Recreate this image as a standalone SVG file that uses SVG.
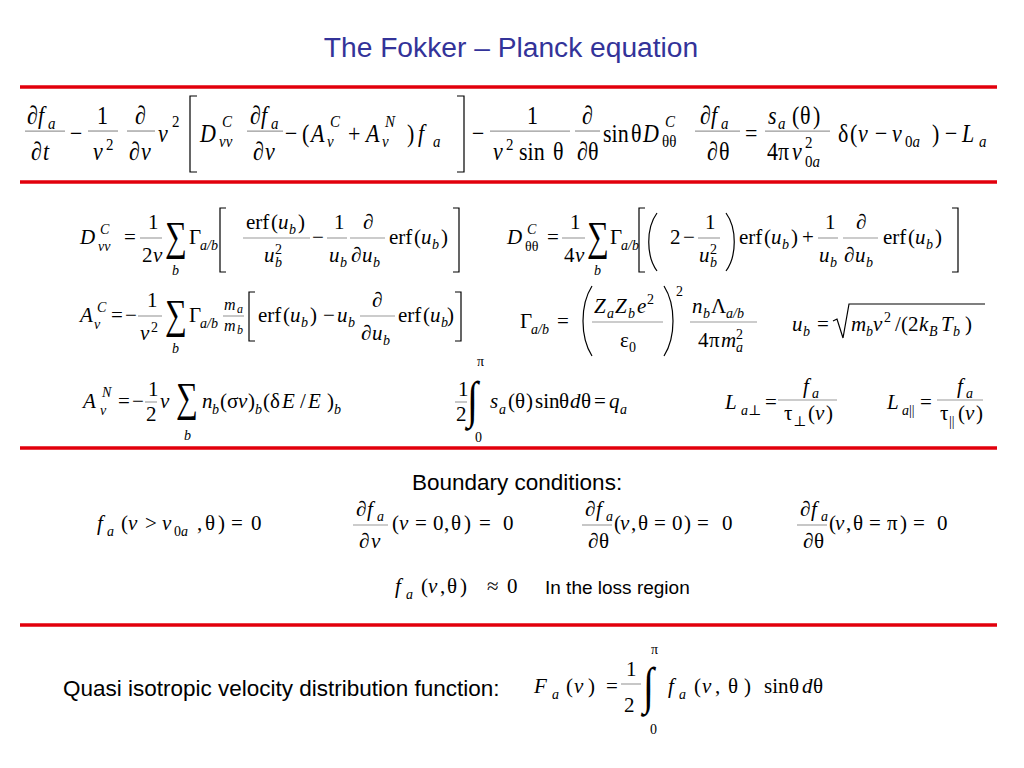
<svg xmlns="http://www.w3.org/2000/svg" width="1024" height="768" viewBox="0 0 1024 768">
<style>
.t,.T,.s,.S,.m16,.m12{font-family:"Liberation Serif","Times New Roman","DejaVu Serif",serif;fill:#000}
.t{font-size:21px}.T{font-size:22px}.s{font-size:14px}.S{font-size:15px}.m16{font-size:16px}.m12{font-size:12px}
.i{font-style:italic}
.sum{font-size:36px}
.int{font-size:40px}
.sans{font-family:"Liberation Sans",Arial,sans-serif;fill:#000}
.fl{stroke:#999;stroke-width:1.1}
.dl{fill:none;stroke:#000;stroke-width:1.2}
.red{stroke:#e2000c;stroke-width:3.5}
</style>
<rect width="1024" height="768" fill="#fff"/>
<text x="511" y="57" text-anchor="middle" class="sans" style="font-size:28.2px;fill:#333399">The Fokker – Planck equation</text>
<g id="rules">
<line class="red" x1="20" y1="87" x2="997" y2="87"/>
<line class="red" x1="20" y1="182" x2="997" y2="182"/>
<line class="red" x1="20" y1="448" x2="997" y2="448"/>
<line class="red" x1="20" y1="625" x2="997" y2="625"/>
</g>

<g id="eq-main">
<path class="dl" d="M197,96 L190,96 L190,172 L197,172"/>
<path class="dl" d="M457,96 L464,96 L464,172 L457,172"/>
<g transform="translate(0,142) scale(1,1.18)">
<line class="fl" x1="25" y1="-9.3" x2="65" y2="-9.3"/>
<text class="T" x="27" y="-15">∂</text><text class="T i" x="38" y="-15">f</text><text class="S i" x="48" y="-11">a</text>
<text class="T" x="31" y="15">∂</text><text class="T i" x="43" y="15">t</text>
<text class="T" x="70" y="0">−</text>
<line class="fl" x1="88" y1="-9.3" x2="118" y2="-9.3"/>
<text class="T" x="97" y="-15">1</text><text class="T i" x="93" y="15">v</text><text class="S" x="106" y="6.5">2</text>
<line class="fl" x1="127" y1="-9.3" x2="155" y2="-9.3"/>
<text class="T" x="135" y="-15">∂</text><text class="T" x="129" y="15">∂</text><text class="T i" x="141" y="15">v</text>
<text class="T i" x="158" y="0">v</text><text class="S" x="172" y="-13">2</text>
<text class="T i" x="200" y="0">D</text><text class="S i" x="222" y="-13">C</text><text class="S i" x="219" y="4">vv</text>
<line class="fl" x1="247" y1="-9.3" x2="283" y2="-9.3"/>
<text class="T" x="250" y="-15">∂</text><text class="T i" x="261" y="-15">f</text><text class="S i" x="271" y="-11">a</text>
<text class="T" x="253" y="15">∂</text><text class="T i" x="265" y="15">v</text>
<text class="T" x="285" y="0">−</text><text class="T" x="302" y="0">(</text>
<text class="T i" x="311" y="0">A</text><text class="S i" x="330" y="-13">C</text><text class="S i" x="327" y="4">v</text>
<text class="T" x="348" y="0">+</text>
<text class="T i" x="366" y="0">A</text><text class="S i" x="385" y="-13">N</text><text class="S i" x="382" y="4">v</text>
<text class="T" x="407" y="0">)</text>
<text class="T i" x="418" y="0">f</text><text class="S i" x="433" y="4">a</text>
<text class="T" x="472" y="0">−</text>
<line class="fl" x1="490" y1="-9.3" x2="570" y2="-9.3"/>
<text class="T" x="527" y="-15">1</text>
<text class="T i" x="493" y="15">v</text><text class="S" x="506" y="6.5">2</text><text class="T" x="519" y="15">sin</text><text class="T" x="553" y="15">θ</text>
<line class="fl" x1="575" y1="-9.3" x2="600" y2="-9.3"/>
<text class="T" x="582" y="-15">∂</text><text class="T" x="577" y="15">∂</text><text class="T" x="588" y="15">θ</text>
<text class="T" x="603" y="0">sin</text><text class="T" x="631" y="0">θ</text>
<text class="T i" x="643" y="0">D</text><text class="S i" x="665" y="-13">C</text><text class="S" x="662" y="4">θθ</text>
<line class="fl" x1="695" y1="-9.3" x2="740" y2="-9.3"/>
<text class="T" x="700" y="-15">∂</text><text class="T i" x="711" y="-15">f</text><text class="S i" x="721" y="-11">a</text>
<text class="T" x="707" y="15">∂</text><text class="T" x="719" y="15">θ</text>
<text class="T" x="745" y="0">=</text>
<line class="fl" x1="765" y1="-9.3" x2="830" y2="-9.3"/>
<text class="T i" x="768" y="-15">s</text><text class="S i" x="778" y="-11">a</text><text class="T" x="792" y="-15">(</text><text class="T" x="800" y="-15">θ</text><text class="T" x="813" y="-15">)</text>
<text class="T" x="767" y="15">4</text><text class="T" x="778" y="15">π</text><text class="T i" x="792" y="15">v</text><text class="S" x="805" y="5">2</text><text class="S" x="805" y="21">0<tspan class="i">a</tspan></text>
<text class="T" x="838" y="0">δ</text><text class="T" x="850" y="0">(</text><text class="T i" x="858" y="0">v</text><text class="T" x="875" y="0">−</text><text class="T i" x="892" y="0">v</text><text class="S" x="905" y="4">0<tspan class="i">a</tspan></text><text class="T" x="932" y="0">)</text><text class="T" x="945" y="0">−</text><text class="T i" x="962" y="0">L</text><text class="S i" x="979" y="4">a</text>
</g>
</g>

<g id="eq-Dvv">
<text class="t i" x="80" y="244">D</text><text class="s i" x="100" y="234">C</text><text class="s i" x="98" y="251">vv</text>
<text class="t" x="124" y="244">=</text>
<line class="fl" x1="140" y1="238" x2="162" y2="238"/>
<text class="t" x="148" y="229">1</text><text class="t" x="142" y="262">2</text><text class="t i" x="153" y="262">v</text>
<text class="t sum" transform="translate(165,250) scale(0.85,1.15)">∑</text>
<text class="s i" x="172" y="275">b</text>
<text class="t" x="189" y="244">Γ</text><text class="s i" x="200" y="250">a/b</text>
<path class="dl" d="M226,208 L220,208 L220,272 L226,272"/>
<line class="fl" x1="243" y1="238" x2="310" y2="238"/>
<text class="t" x="246" y="229">erf</text><text class="t" x="271" y="229">(</text><text class="t i" x="278" y="229">u</text><text class="s i" x="289" y="234">b</text><text class="t" x="298" y="229">)</text>
<text class="t i" x="264" y="262">u</text><text class="s i" x="275" y="267">b</text><text class="s" x="275" y="254">2</text>
<text class="t" x="312" y="244">−</text>
<line class="fl" x1="327" y1="238" x2="347" y2="238"/>
<text class="t" x="334" y="229">1</text><text class="t i" x="329" y="262">u</text><text class="s i" x="340" y="267">b</text>
<line class="fl" x1="350" y1="238" x2="385" y2="238"/>
<text class="t" x="363" y="229">∂</text><text class="t" x="351" y="262">∂</text><text class="t i" x="362" y="262">u</text><text class="s i" x="373" y="267">b</text>
<text class="t" x="389" y="244">erf</text><text class="t" x="414" y="244">(</text><text class="t i" x="421" y="244">u</text><text class="s i" x="432" y="249">b</text><text class="t" x="441" y="244">)</text>
<path class="dl" d="M453,208 L459,208 L459,272 L453,272"/>
</g>

<g id="eq-AvC">
<text class="t i" x="80" y="322">A</text><text class="s i" x="97" y="312">C</text><text class="s i" x="94" y="329">v</text>
<text class="t" x="111" y="322">=</text><text class="t" x="125" y="322">−</text>
<line class="fl" x1="138" y1="316" x2="162" y2="316"/>
<text class="t" x="147" y="307">1</text><text class="t i" x="140" y="340">v</text><text class="s" x="151" y="332">2</text>
<text class="t sum" transform="translate(165,328) scale(0.85,1.15)">∑</text>
<text class="s i" x="172" y="353">b</text>
<text class="t" x="189" y="322">Γ</text><text class="s i" x="200" y="328">a/b</text>
<line class="fl" x1="223" y1="316" x2="244" y2="316"/>
<text class="m16 i" x="224" y="310">m</text><text class="m12 i" x="237" y="313">a</text>
<text class="m16 i" x="224" y="331">m</text><text class="m12 i" x="237" y="334">b</text>
<path class="dl" d="M255,292 L249,292 L249,341 L255,341"/>
<text class="t" x="258" y="322">erf</text><text class="t" x="283" y="322">(</text><text class="t i" x="290" y="322">u</text><text class="s i" x="301" y="327">b</text><text class="t" x="310" y="322">)</text>
<text class="t" x="323" y="322">−</text>
<text class="t i" x="337" y="322">u</text><text class="s i" x="348" y="327">b</text>
<line class="fl" x1="360" y1="316" x2="395" y2="316"/>
<text class="t" x="372" y="307">∂</text><text class="t" x="361" y="340">∂</text><text class="t i" x="372" y="340">u</text><text class="s i" x="383" y="345">b</text>
<text class="t" x="398" y="322">erf</text><text class="t" x="423" y="322">(</text><text class="t i" x="430" y="322">u</text><text class="s i" x="441" y="327">b</text><text class="t" x="447" y="322">)</text>
<path class="dl" d="M455,292 L461,292 L461,341 L455,341"/>
</g>

<g id="eq-Dtt">
<text class="t i" x="507" y="244">D</text><text class="s i" x="527" y="234">C</text><text class="s" x="525" y="251">θθ</text>
<text class="t" x="547" y="244">=</text>
<line class="fl" x1="562" y1="238" x2="585" y2="238"/>
<text class="t" x="570" y="229">1</text><text class="t" x="564" y="262">4</text><text class="t i" x="575" y="262">v</text>
<text class="t sum" transform="translate(587,250) scale(0.85,1.15)">∑</text>
<text class="s i" x="594" y="275">b</text>
<text class="t" x="610" y="244">Γ</text><text class="s i" x="621" y="250">a/b</text>
<path class="dl" d="M645,208 L639,208 L639,272 L645,272"/>
<path class="dl" d="M657,213 C646,228 646,256 657,271"/>
<text class="t" x="670" y="244">2</text><text class="t" x="683" y="244">−</text>
<line class="fl" x1="698" y1="238" x2="720" y2="238"/>
<text class="t" x="705" y="229">1</text><text class="t i" x="699" y="262">u</text><text class="s i" x="710" y="267">b</text><text class="s" x="710" y="254">2</text>
<path class="dl" d="M726,213 C737,228 737,256 726,271"/>
<text class="t" x="739" y="244">erf</text><text class="t" x="764" y="244">(</text><text class="t i" x="771" y="244">u</text><text class="s i" x="782" y="249">b</text><text class="t" x="791" y="244">)</text>
<text class="t" x="802" y="244">+</text>
<line class="fl" x1="818" y1="238" x2="838" y2="238"/>
<text class="t" x="825" y="229">1</text><text class="t i" x="819" y="262">u</text><text class="s i" x="830" y="267">b</text>
<line class="fl" x1="843" y1="238" x2="878" y2="238"/>
<text class="t" x="856" y="229">∂</text><text class="t" x="844" y="262">∂</text><text class="t i" x="855" y="262">u</text><text class="s i" x="866" y="267">b</text>
<text class="t" x="883" y="244">erf</text><text class="t" x="908" y="244">(</text><text class="t i" x="915" y="244">u</text><text class="s i" x="926" y="249">b</text><text class="t" x="935" y="244">)</text>
<path class="dl" d="M952,208 L958,208 L958,272 L952,272"/>
</g>

<g id="eq-Gamma">
<text class="t" x="520" y="328">Γ</text><text class="s i" x="531" y="334">a/b</text>
<text class="t" x="557" y="328">=</text>
<path class="dl" d="M592,286 C580,305 580,337 592,356"/>
<line class="fl" x1="592" y1="322" x2="663" y2="322"/>
<text class="t i" x="594" y="313">Z</text><text class="s i" x="607" y="318">a</text><text class="t i" x="615" y="313">Z</text><text class="s i" x="628" y="318">b</text><text class="t i" x="637" y="313">e</text><text class="s" x="647" y="304">2</text>
<text class="t" x="620" y="347">ε</text><text class="s" x="629" y="352">0</text>
<path class="dl" d="M664,286 C676,305 676,337 664,356"/>
<text class="s" x="676" y="296">2</text>
<line class="fl" x1="690" y1="322" x2="757" y2="322"/>
<text class="t i" x="692" y="313">n</text><text class="s i" x="703" y="318">b</text><text class="t" x="711" y="313">Λ</text><text class="s i" x="726" y="318">a/b</text>
<text class="t" x="698" y="347">4</text><text class="t" x="709" y="347">π</text><text class="t i" x="721" y="347">m</text><text class="s i" x="736" y="352">a</text><text class="s" x="736" y="339">2</text>
</g>

<g id="eq-ub">
<text class="t i" x="792" y="331">u</text><text class="s i" x="803" y="336">b</text>
<text class="t" x="817" y="331">=</text>
<path class="dl" d="M833,321 L837,319 L843,338 L849,304 L985,304"/>
<text class="t i" x="851" y="331">m</text><text class="s i" x="866" y="336">b</text><text class="t i" x="873" y="331">v</text><text class="s" x="884" y="322">2</text>
<text class="t" x="895" y="331">/</text><text class="t" x="901" y="331">(</text><text class="t" x="908" y="331">2</text><text class="t i" x="919" y="331">k</text><text class="s i" x="929" y="336">B</text><text class="t i" x="941" y="331">T</text><text class="s i" x="953" y="336">b</text><text class="t" x="965" y="331">)</text>
</g>

<g id="eq-AvN">
<text class="t i" x="83" y="408">A</text><text class="s i" x="102" y="397">N</text><text class="s i" x="100" y="415">v</text>
<text class="t" x="118" y="408">=</text><text class="t" x="132" y="408">−</text>
<line class="fl" x1="145" y1="402" x2="157" y2="402"/>
<text class="t" x="148" y="396">1</text><text class="t" x="146" y="421">2</text>
<text class="t i" x="160" y="408">v</text>
<text class="t sum" transform="translate(176,411) scale(0.85,1.15)">∑</text>
<text class="s i" x="184" y="440">b</text>
<text class="t i" x="202" y="408">n</text><text class="s i" x="212" y="414">b</text><text class="t" x="220" y="408">(</text><text class="t" x="227" y="408">σ</text><text class="t i" x="238" y="408">v</text><text class="t" x="248" y="408">)</text><text class="s i" x="255" y="414">b</text>
<text class="t" x="263" y="408">(</text><text class="t" x="270" y="408">δ</text><text class="t i" x="282" y="408">E</text><text class="t" x="300" y="408">/</text><text class="t i" x="308" y="408">E</text><text class="t" x="327" y="408">)</text><text class="s i" x="334" y="414">b</text>
</g>

<g id="eq-source">
<line class="fl" x1="455" y1="402" x2="467" y2="402"/>
<text class="t" x="458" y="396">1</text><text class="t" x="456" y="421">2</text>
<text class="t int" transform="translate(467,417) scale(1,1.28)">∫</text>
<text class="s" x="477" y="366">π</text><text class="s" x="475" y="442">0</text>
<text class="t i" x="490" y="408">s</text><text class="s i" x="499" y="414">a</text><text class="t" x="508" y="408">(</text><text class="t" x="515" y="408">θ</text><text class="t" x="526" y="408">)</text>
<text class="t" x="535" y="408">sin</text><text class="t" x="559" y="408">θ</text><text class="t i" x="570" y="408">d</text><text class="t" x="581" y="408">θ</text>
<text class="t" x="594" y="408">=</text><text class="t i" x="609" y="408">q</text><text class="s i" x="620" y="414">a</text>
</g>

<g id="eq-Lperp">
<text class="t i" x="725" y="409">L</text><text class="s i" x="741" y="415">a</text><text class="s" x="748" y="415">⊥</text>
<text class="t" x="765" y="409">=</text>
<line class="fl" x1="778" y1="400" x2="837" y2="400"/>
<text class="t i" x="803" y="393">f</text><text class="s i" x="812" y="398">a</text>
<text class="t" x="784" y="420">τ</text><text class="s" x="793" y="426">⊥</text><text class="t" x="808" y="420">(</text><text class="t i" x="815" y="420">v</text><text class="t" x="826" y="420">)</text>
</g>

<g id="eq-Lpar">
<text class="t i" x="887" y="409">L</text><text class="s i" x="902" y="415">a</text><text class="s" x="909" y="415">||</text>
<text class="t" x="920" y="409">=</text>
<line class="fl" x1="937" y1="400" x2="983" y2="400"/>
<text class="t i" x="957" y="393">f</text><text class="s i" x="966" y="398">a</text>
<text class="t" x="940" y="420">τ</text><text class="s" x="949" y="426">||</text><text class="t" x="958" y="420">(</text><text class="t i" x="965" y="420">v</text><text class="t" x="976" y="420">)</text>
</g>

<text class="sans" x="412" y="490" style="font-size:22.5px">Boundary conditions:</text>

<g id="bc1">
<text class="t i" x="97" y="530">f</text><text class="s i" x="107" y="536">a</text><text class="t" x="121" y="530">(</text><text class="t i" x="128" y="530">v</text><text class="t" x="145" y="530">&gt;</text><text class="t i" x="162" y="530">v</text><text class="s" x="174" y="536">0<tspan class="i">a</tspan></text><text class="t" x="197" y="530">,</text><text class="t" x="205" y="530">θ</text><text class="t" x="218" y="530">)</text><text class="t" x="231" y="530">=</text><text class="t" x="251" y="530">0</text>
</g>

<g id="bc2">
<line class="fl" x1="353" y1="525" x2="388" y2="525"/>
<text class="t" x="356" y="516">∂</text><text class="t i" x="367" y="516">f</text><text class="s i" x="377" y="521">a</text>
<text class="t" x="359" y="548">∂</text><text class="t i" x="371" y="548">v</text>
<text class="t" x="392" y="530">(</text><text class="t i" x="399" y="530">v</text><text class="t" x="415" y="530">=</text><text class="t" x="433" y="530">0</text><text class="t" x="444" y="530">,</text><text class="t" x="451" y="530">θ</text><text class="t" x="464" y="530">)</text><text class="t" x="479" y="530">=</text><text class="t" x="503" y="530">0</text>
</g>

<g id="bc3">
<line class="fl" x1="582" y1="525" x2="612" y2="525"/>
<text class="t" x="585" y="516">∂</text><text class="t i" x="596" y="516">f</text><text class="s i" x="606" y="521">a</text>
<text class="t" x="588" y="548">∂</text><text class="t" x="599" y="548">θ</text>
<text class="t" x="614" y="530">(</text><text class="t i" x="620" y="530">v</text><text class="t" x="631" y="530">,</text><text class="t" x="638" y="530">θ</text><text class="t" x="654" y="530">=</text><text class="t" x="672" y="530">0</text><text class="t" x="684" y="530">)</text><text class="t" x="697" y="530">=</text><text class="t" x="722" y="530">0</text>
</g>

<g id="bc4">
<line class="fl" x1="797" y1="525" x2="827" y2="525"/>
<text class="t" x="800" y="516">∂</text><text class="t i" x="811" y="516">f</text><text class="s i" x="821" y="521">a</text>
<text class="t" x="803" y="548">∂</text><text class="t" x="814" y="548">θ</text>
<text class="t" x="829" y="530">(</text><text class="t i" x="835" y="530">v</text><text class="t" x="846" y="530">,</text><text class="t" x="853" y="530">θ</text><text class="t" x="869" y="530">=</text><text class="t" x="887" y="530">π</text><text class="t" x="900" y="530">)</text><text class="t" x="913" y="530">=</text><text class="t" x="937" y="530">0</text>
</g>

<g id="bc5">
<text class="t i" x="395" y="593">f</text><text class="s i" x="406" y="599">a</text><text class="t" x="421" y="593">(</text><text class="t i" x="428" y="593">v</text><text class="t" x="440" y="593">,</text><text class="t" x="447" y="593">θ</text><text class="t" x="460" y="593">)</text><text class="t" x="487" y="593">≈</text><text class="t" x="507" y="593">0</text>
</g>
<text class="sans" x="545" y="594" style="font-size:19px">In the loss region</text>

<text class="sans" x="63" y="696" style="font-size:22.5px">Quasi isotropic velocity distribution function:</text>

<g id="eq-Fa">
<text class="t i" x="534" y="693">F</text><text class="s i" x="552" y="699">a</text><text class="t" x="566" y="693">(</text><text class="t i" x="574" y="693">v</text><text class="t" x="588" y="693">)</text>
<text class="t" x="606" y="693">=</text>
<line class="fl" x1="621" y1="684" x2="641" y2="684"/>
<text class="t" x="626" y="676">1</text><text class="t" x="624" y="712">2</text>
<text class="t int" transform="translate(643,703) scale(1,1.28)">∫</text>
<text class="s" x="651" y="654">π</text><text class="s" x="650" y="734">0</text>
<text class="t i" x="668" y="693">f</text><text class="s i" x="679" y="699">a</text><text class="t" x="694" y="693">(</text><text class="t i" x="702" y="693">v</text><text class="t" x="715" y="693">,</text><text class="t" x="728" y="693">θ</text><text class="t" x="744" y="693">)</text>
<text class="t" x="764" y="693">sin</text><text class="t" x="789" y="693">θ</text><text class="t i" x="802" y="693">d</text><text class="t" x="813" y="693">θ</text>
</g>
</svg>
